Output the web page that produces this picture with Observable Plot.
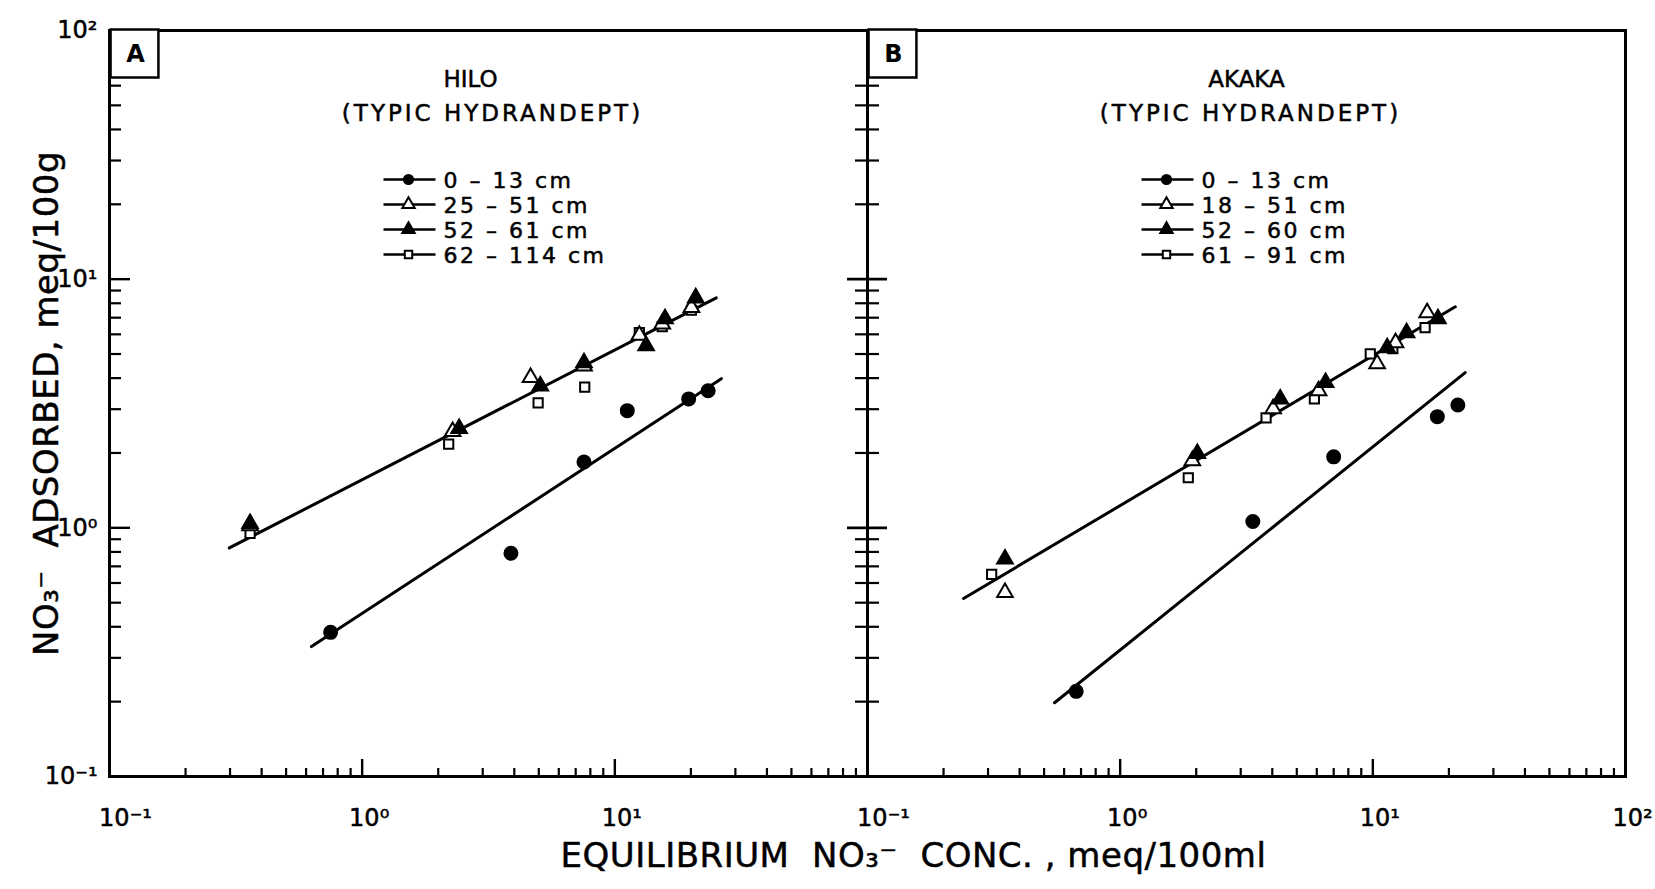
<!DOCTYPE html>
<html>
<head>
<meta charset="utf-8">
<script src="https://cdn.jsdelivr.net/npm/d3@7"></script>
<script src="https://cdn.jsdelivr.net/npm/@observablehq/plot@0.6"></script>
<style>
  html, body { margin: 0; padding: 0; background: #fff; }
  #chart svg { display: block; }
  g[aria-description="soil order"] text { letter-spacing: 3px; }
  g[aria-description="legend label"] text { letter-spacing: 2.5px; }
  g[aria-description="axis title"] text { letter-spacing: 0.5px; }
</style>
</head>
<body>
<div id="chart"></div>
<script>
// ---------- data ----------
const panels = ["A", "B"];
const soilNames = ["HILO", "AKAKA"];
const soilOrder = "(TYPIC HYDRANDEPT)";
const hiloDepths = ["0 – 13 cm", "25 – 51 cm", "52 – 61 cm", "62 – 114 cm"];
const akakaDepths = ["0 – 13 cm", "18 – 51 cm", "52 – 60 cm", "61 – 91 cm"];
const xLabel = "EQUILIBRIUM  NO₃⁻  CONC. , meq/100ml";
const yLabel = "NO₃⁻  ADSORBED, meq/100g";

// HILO (panel A): [equilibrium conc, adsorbed]
const hilo_0_13   = [[0.75, 0.38], [3.88, 0.79], [7.55, 1.84], [11.2, 2.96], [19.6, 3.30], [23.4, 3.56]];
const hilo_25_51  = [[0.36, 1.02], [2.28, 2.44], [4.64, 4.02], [7.55, 4.48], [12.5, 5.95], [15.4, 6.60], [20.1, 7.70]];
const hilo_52_61  = [[0.36, 1.04], [2.42, 2.51], [5.07, 3.72], [7.55, 4.61], [13.3, 5.40], [15.8, 6.93], [20.9, 8.41]];
const hilo_62_114 = [[0.36, 0.95], [2.20, 2.17], [4.97, 3.18], [7.60, 3.68], [12.5, 6.09], [15.4, 6.45], [20.1, 7.50]];
// AKAKA (panel B)
const akaka_0_13  = [[0.67, 0.22], [3.35, 1.06], [7.00, 1.93], [18.0, 2.80], [21.7, 3.12]];
const akaka_18_51 = [[0.35, 0.55], [1.93, 1.86], [4.03, 3.01], [6.10, 3.56], [10.4, 4.57], [12.3, 5.55], [16.4, 7.33]];
const akaka_52_60 = [[0.35, 0.75], [2.02, 1.99], [4.30, 3.30], [6.50, 3.84], [11.4, 5.30], [13.6, 6.09], [18.1, 6.93]];
const akaka_61_91 = [[0.31, 0.65], [1.86, 1.59], [3.78, 2.77], [5.87, 3.30], [9.77, 5.01], [12.0, 5.25], [16.1, 6.38]];

// fitted lines (end points)
const hiloFitTop    = [[0.63, 0.333], [26.4, 3.98]];
const hiloFitSub    = [[0.298, 0.83], [25.2, 8.41]];
const akakaFitTop   = [[0.55, 0.198], [23.2, 4.21]];
const akakaFitSub   = [[0.24, 0.52], [21.2, 7.74]];

// axis ticks
const xMinorTicks = [0.2, 0.3, 0.4, 0.5, 0.6, 0.7, 0.8, 0.9, 2, 3, 4, 5, 6, 7, 8, 9, 20, 30, 40, 50, 60, 70, 80, 90];
const xMajorTicks = [1, 10];
const yMinorTicks = [0.2, 0.3, 0.4, 0.5, 0.6, 0.7, 0.8, 0.9, 2, 3, 4, 5, 6, 7, 8, 9, 20, 30, 40, 50, 60];
const yMajorTicks = [1, 10];
const yTickValues = [0.1, 1, 10, 100];
const xTickValuesA = [0.1, 1, 10];
const xTickValuesB = [0.1, 1, 10, 100];
const tickLabels = new Map([[0.1, "10⁻¹"], [1, "10⁰"], [10, "10¹"], [100, "10²"]]);

// ---------- tables ----------
const kinds = ["filledCircle", "openTriangle", "filledTriangle", "openSquare"];
const seriesList = [
  {panel: "A", kind: kinds[0], pts: hilo_0_13},
  {panel: "A", kind: kinds[1], pts: hilo_25_51},
  {panel: "A", kind: kinds[2], pts: hilo_52_61},
  {panel: "A", kind: kinds[3], pts: hilo_62_114},
  {panel: "B", kind: kinds[0], pts: akaka_0_13},
  {panel: "B", kind: kinds[1], pts: akaka_18_51},
  {panel: "B", kind: kinds[2], pts: akaka_52_60},
  {panel: "B", kind: kinds[3], pts: akaka_61_91}
];
const points = seriesList.flatMap(s => s.pts.map(([x, y]) => ({panel: s.panel, kind: s.kind, x, y})));
const fits = [
  {panel: "A", id: "A1", pts: hiloFitTop}, {panel: "A", id: "A2", pts: hiloFitSub},
  {panel: "B", id: "B1", pts: akakaFitTop}, {panel: "B", id: "B2", pts: akakaFitSub}
].flatMap(f => f.pts.map(([x, y]) => ({panel: f.panel, id: f.id, x, y})));

const legendRows = [0, 1, 2, 3].flatMap(i => [
  {panel: "A", row: i, kind: kinds[i], label: hiloDepths[i]},
  {panel: "B", row: i, kind: kinds[i], label: akakaDepths[i]}
]);
const xTickRows = [
  ...xTickValuesA.map(v => ({panel: "A", v})),
  ...xTickValuesB.map(v => ({panel: "B", v}))
];

const markerStyle = {
  filledCircle:   {symbol: "circle",   fill: "black", r: 6.5, lr: 4.6},
  openTriangle:   {symbol: "triangle", fill: "white", r: 5.8, lr: 4.6},
  filledTriangle: {symbol: "triangle", fill: "black", r: 5.8, lr: 4.6},
  openSquare:     {symbol: "square",   fill: "white", r: 5.2, lr: 4.2}
};

// ---------- layout ----------
const W = 1655, H = 889;
const mTop = 30, mBottom = 113, mLeft = 109, mRight = 30;
const frameH = H - mTop - mBottom;
const facetW = (W - mLeft - mRight) / 2;

const hline = {draw(ctx) { ctx.moveTo(-26, 0); ctx.lineTo(26, 0); }};
const heavy = {stroke: "black", strokeWidth: 0.5};

const marks = [];
// frame
marks.push(Plot.frame({stroke: "black", strokeWidth: 3}));
// x ticks (inward, both panels)
marks.push(Plot.tickX(xMinorTicks, {x: d => d, insetTop: frameH - 8, stroke: "black", strokeWidth: 2.2}));
marks.push(Plot.tickX(xMajorTicks, {x: d => d, insetTop: frameH - 17, stroke: "black", strokeWidth: 2.4}));
// y ticks panel A (inward)
marks.push(Plot.tickY(yMinorTicks, {y: d => d, fx: () => "A", insetRight: facetW - 12, stroke: "black", strokeWidth: 2.2}));
marks.push(Plot.tickY(yMajorTicks, {y: d => d, fx: () => "A", insetRight: facetW - 21, stroke: "black", strokeWidth: 2.4}));
// y ticks panel B (crossing the divider)
marks.push(Plot.tickY(yMinorTicks, {y: d => d, fx: () => "B", insetRight: facetW - 24, dx: -12, stroke: "black", strokeWidth: 2.2}));
marks.push(Plot.tickY(yMajorTicks, {y: d => d, fx: () => "B", insetRight: facetW - 40, dx: -20, stroke: "black", strokeWidth: 2.6}));

// fitted lines
marks.push(Plot.line(fits, {x: "x", y: "y", z: "id", fx: "panel", stroke: "black", strokeWidth: 3}));

// data markers
for (const k of ["openSquare", "openTriangle", "filledTriangle", "filledCircle"]) {
  const s = markerStyle[k];
  marks.push(Plot.dot(points.filter(d => d.kind === k), {
    x: "x", y: "y", fx: "panel", symbol: s.symbol, r: s.r, fill: s.fill, stroke: "black", strokeWidth: 2
  }));
}

// legend
for (let i = 0; i < 4; i++) {
  const rows = legendRows.filter(d => d.row === i);
  const s = markerStyle[kinds[i]];
  const dy = 149 + 25 * i;
  marks.push(Plot.dot(rows, {fx: "panel", frameAnchor: "top-left", dx: 300, dy, symbol: hline, r: 5, fill: "none", stroke: "black", strokeWidth: 2.6}));
  marks.push(Plot.dot(rows, {fx: "panel", frameAnchor: "top-left", dx: 299, dy, symbol: s.symbol, r: s.lr, fill: s.fill, stroke: "black", strokeWidth: 2}));
  marks.push(Plot.text(rows, {fx: "panel", text: "label", frameAnchor: "top-left", dx: 334, dy: dy + 1, textAnchor: "start", lineAnchor: "middle", fontSize: 22, fill: "black", ...heavy, ariaDescription: "legend label"}));
}

// panel titles
marks.push(Plot.text([soilNames[0]], {fx: () => "A", text: d => d, frameAnchor: "top", dx: -18, dy: 49, lineAnchor: "middle", textAnchor: "middle", fontSize: 23, fill: "black", ...heavy}));
marks.push(Plot.text([soilNames[1]], {fx: () => "B", text: d => d, frameAnchor: "top", dx: 0, dy: 49, lineAnchor: "middle", textAnchor: "middle", fontSize: 23, fill: "black", ...heavy}));
marks.push(Plot.text(panels, {fx: d => d, text: () => soilOrder, frameAnchor: "top", dx: 4, dy: 83, lineAnchor: "middle", textAnchor: "middle", fontSize: 23, fill: "black", ...heavy, ariaDescription: "soil order"}));

// panel letter boxes
marks.push(Plot.dot(panels, {fx: d => d, frameAnchor: "top-left", dx: 25, dy: 23, symbol: "square", r: 27, fill: "white", stroke: "black", strokeWidth: 2.5}));
marks.push(Plot.text(panels, {fx: d => d, text: d => d, frameAnchor: "top-left", dx: 26, dy: 24, textAnchor: "middle", lineAnchor: "middle", fontSize: 24, fontWeight: "bold", fill: "black"}));

// tick labels
marks.push(Plot.text(yTickValues, {fx: () => "A", y: d => d, text: d => tickLabels.get(d), frameAnchor: "left", dx: -12, textAnchor: "end", lineAnchor: "middle", fontSize: 24, fill: "black", ...heavy}));
marks.push(Plot.text(xTickRows.filter(d => d.v === 0.1), {fx: "panel", x: "v", text: d => tickLabels.get(d.v), frameAnchor: "bottom", dy: 42, dx: 16, textAnchor: "middle", lineAnchor: "middle", fontSize: 24, fill: "black", ...heavy}));
marks.push(Plot.text(xTickRows.filter(d => d.v !== 0.1), {fx: "panel", x: "v", text: d => tickLabels.get(d.v), frameAnchor: "bottom", dy: 42, dx: 7, textAnchor: "middle", lineAnchor: "middle", fontSize: 24, fill: "black", ...heavy}));

// axis titles
marks.push(Plot.text([xLabel], {fx: () => "A", text: d => d, frameAnchor: "bottom-right", dx: 46, dy: 80, textAnchor: "middle", lineAnchor: "middle", fontSize: 34, fill: "black", ...heavy, ariaDescription: "axis title"}));
marks.push(Plot.text([yLabel], {fx: () => "A", text: d => d, frameAnchor: "left", dx: -62, rotate: -90, textAnchor: "middle", lineAnchor: "middle", fontSize: 34, fill: "black", ...heavy, ariaDescription: "axis title"}));

const chart = Plot.plot({
  width: W, height: H,
  marginTop: mTop, marginBottom: mBottom, marginLeft: mLeft, marginRight: mRight,
  x: {type: "log", domain: [0.1, 100], axis: null},
  y: {type: "log", domain: [0.1, 100], axis: null},
  fx: {domain: panels, padding: 0, axis: null},
  style: {fontFamily: "'DejaVu Sans', sans-serif", background: "white", color: "black", overflow: "visible"},
  marks
});
document.getElementById("chart").appendChild(chart);
</script>
</body>
</html>
